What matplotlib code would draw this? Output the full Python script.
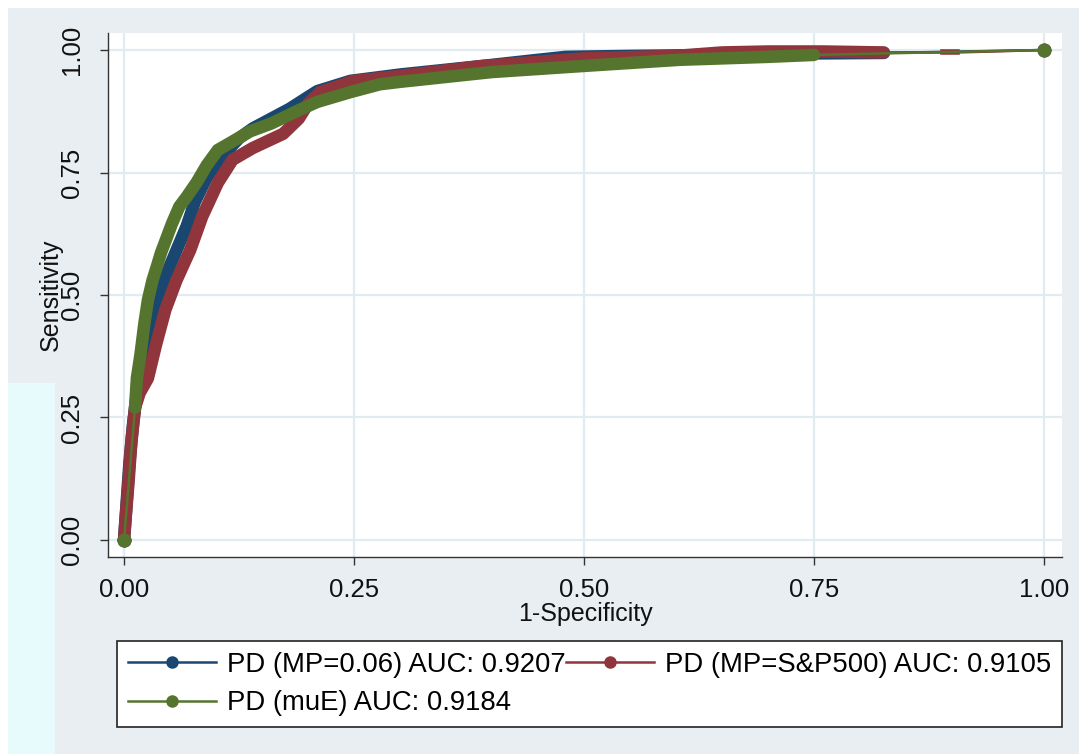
import matplotlib
matplotlib.use("Agg")
import matplotlib.pyplot as plt
from matplotlib.patches import Rectangle
from matplotlib.lines import Line2D

plt.rcParams['font.family'] = ['Liberation Sans', 'DejaVu Sans']

# ---------------- data ----------------
series_names = ["PD (MP=0.06) AUC: 0.9207",
                "PD (MP=S&P500) AUC: 0.9105",
                "PD (muE) AUC: 0.9184"]
series_colors = ["#1a476f", "#90353b", "#55752f"]

blue_fpr = [0, 0.003, 0.006, 0.010, 0.014, 0.020, 0.030, 0.040, 0.050, 0.059, 0.068,
            0.077, 0.090, 0.105, 0.125, 0.14, 0.16, 0.18, 0.21, 0.246, 0.30,
            0.387, 0.45, 0.48, 0.55, 0.65, 0.75, 0.826, 1.0]
blue_tpr = [0, 0.08, 0.16, 0.24, 0.30, 0.36, 0.44, 0.51, 0.56, 0.60, 0.64,
            0.69, 0.74, 0.78, 0.82, 0.84, 0.86, 0.88, 0.916, 0.937, 0.95,
            0.967, 0.98, 0.986, 0.988, 0.990, 0.993, 0.994, 1.0]

red_fpr = [0, 0.002, 0.005, 0.008, 0.012, 0.017, 0.026, 0.035, 0.045, 0.057, 0.072,
           0.085, 0.102, 0.118, 0.14, 0.173, 0.19, 0.20, 0.213, 0.25, 0.30,
           0.387, 0.50, 0.60, 0.65, 0.70, 0.76, 0.826, 0.89, 0.906, 1.0]
red_tpr = [0, 0.05, 0.12, 0.20, 0.27, 0.30, 0.33, 0.40, 0.47, 0.53, 0.592,
           0.66, 0.729, 0.776, 0.80, 0.829, 0.86, 0.89, 0.914, 0.937, 0.947,
           0.967, 0.983, 0.988, 0.995, 0.997, 0.997, 0.995, 0.995, 0.995, 1.0]

green_fpr = [0, 0.012, 0.014, 0.018, 0.022, 0.026, 0.031, 0.036, 0.040, 0.045, 0.052,
             0.060, 0.068, 0.079, 0.090, 0.102, 0.115, 0.137, 0.160, 0.191, 0.21,
             0.246, 0.278, 0.30, 0.35, 0.40, 0.496, 0.604, 0.70, 0.75, 1.0]
green_tpr = [0, 0.27, 0.33, 0.38, 0.44, 0.49, 0.53, 0.56, 0.585, 0.61, 0.645,
             0.68, 0.70, 0.73, 0.765, 0.796, 0.81, 0.834, 0.85, 0.878, 0.894,
             0.914, 0.93, 0.935, 0.945, 0.955, 0.967, 0.98, 0.986, 0.99, 1.0]

tick_values = [0, 0.25, 0.5, 0.75, 1.0]
tick_labels = ["0.00", "0.25", "0.50", "0.75", "1.00"]

# ---------------- figure ----------------
W, H = 1079, 754
fig = plt.figure(figsize=(W / 100, H / 100), dpi=100, facecolor="white")
bg = "#e8eef2"
fig.add_artist(Rectangle((8 / W, 0), 1 - 8 / W, 1 - 8 / H, transform=fig.transFigure,
                         facecolor=bg, edgecolor="none", zorder=-10))
fig.add_artist(Rectangle((8 / W, 0), 47 / W, (H - 383) / H, transform=fig.transFigure,
                         facecolor="#e8fbfc", edgecolor="none", zorder=-9))

ax = fig.add_axes([108 / W, 1 - 557 / H, (1062 - 108) / W, (557 - 33) / H])
ax.set_facecolor("white")
ax.set_xlim(-0.0174, 1.0196)
ax.set_ylim(-0.0347, 1.0347)

for s in ["top", "right"]:
    ax.spines[s].set_visible(False)
for s in ["left", "bottom"]:
    ax.spines[s].set_color("#333333")
    ax.spines[s].set_linewidth(1.0)

ax.set_xticks(tick_values)
ax.set_xticklabels(tick_labels)
ax.set_yticks(tick_values)
ax.set_yticklabels(tick_labels, rotation=90, va="center")
ax.tick_params(axis="both", direction="out", length=6, width=1, color="#333333",
               labelsize=18.5, labelcolor="#111111")
ax.tick_params(axis="x", pad=9)
ax.tick_params(axis="y", pad=11)
ax.grid(True, color="#e2ebf0", linewidth=1.6)
ax.set_axisbelow(True)

ax.set_xlabel("1-Specificity", fontsize=18, labelpad=0, color="#111111")
ax.set_ylabel("Sensitivity", fontsize=18, labelpad=-1.5, color="#111111")

curves = [(blue_fpr, blue_tpr), (red_fpr, red_tpr), (green_fpr, green_tpr)]
thick_ranges = [(0, len(blue_fpr) - 1), (0, len(red_fpr) - 3), (1, len(green_fpr) - 1)]
for (fx, ty), c, (a, b), z in zip(curves, series_colors, thick_ranges, [3, 4, 5]):
    ax.plot(fx, ty, color=c, lw=1.8, zorder=z, solid_capstyle="round")
    ax.plot(fx[a:b], ty[a:b], color=c, lw=9, zorder=z,
            solid_capstyle="round", solid_joinstyle="round")
    ax.plot([fx[0], fx[-1]], [ty[0], ty[-1]], ls="none", marker="o", ms=9,
            color=c, zorder=z)
# green start marker on top of everything
ax.plot([green_fpr[0]], [green_tpr[0]], ls="none", marker="o", ms=9,
        color=series_colors[2], zorder=6)
# red tail dashes
ax.plot(red_fpr[-3:-1], red_tpr[-3:-1], color=series_colors[1], lw=4, zorder=4)

handles = [Line2D([], [], color=c, lw=1.8, marker="o", ms=8) for c in series_colors]
order = [0, 2, 1]
leg = fig.legend([handles[i] for i in order], [series_names[i] for i in order],
                 loc="upper left", ncol=2,
                 bbox_to_anchor=(117 / W, 1 - 641 / H), fontsize=19.8,
                 frameon=True, fancybox=False, framealpha=1, edgecolor="#222222",
                 handlelength=3.2, handletextpad=0.4, columnspacing=0.0,
                 borderpad=0.4, labelspacing=0.45, borderaxespad=0)
leg.get_frame().set_linewidth(1.2)

fig.savefig("out.png", dpi=100, facecolor=fig.get_facecolor())
